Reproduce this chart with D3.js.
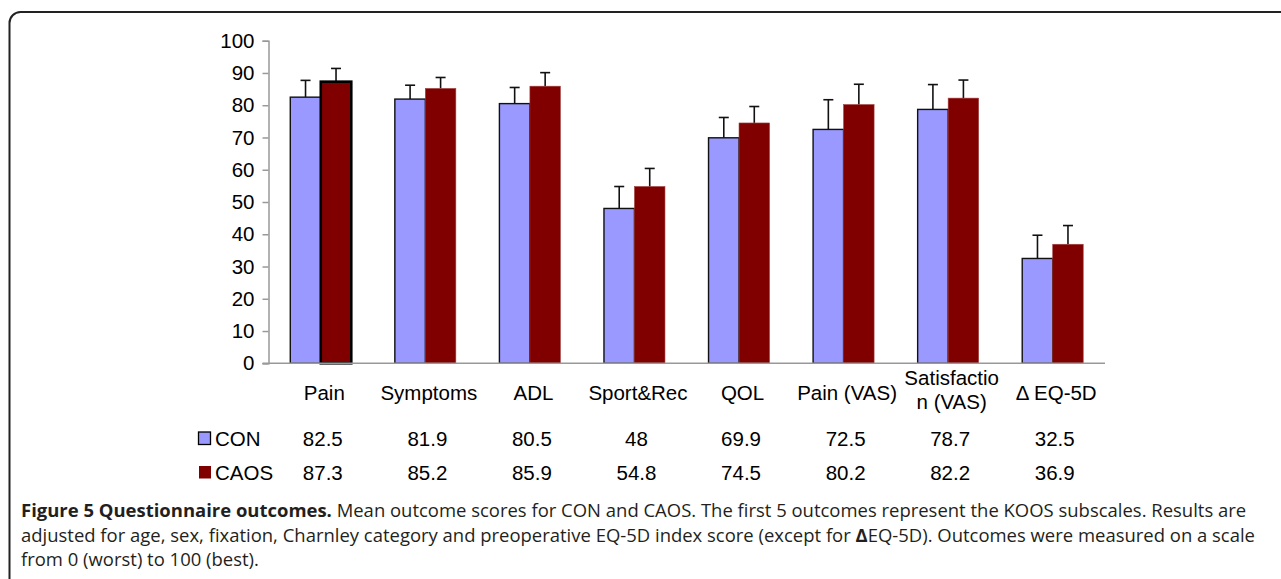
<!DOCTYPE html>
<html lang="en">
<head>
    <meta charset="UTF-8">
    <title>Figure 5 Questionnaire outcomes</title>
    <style>
        body {
            margin: 0;
            background: #fff;
            font-family: 'Liberation Sans', Arial, sans-serif;
        }
        svg {
            display: block;
        }
        .tick text {
            font-family: 'Liberation Sans', Arial, sans-serif;
        }
    </style>
</head>
<body>
    <svg width="1281" height="579"></svg>
    <script src="https://d3js.org/d3.v7.min.js"></script>
    <script>
        // Chart values.
        const categories = ["Pain", "Symptoms", "ADL", "Sport&Rec", "QOL", "Pain (VAS)", "Satisfaction (VAS)", "\u0394 EQ-5D"];
        const categoryLines = [["Pain"], ["Symptoms"], ["ADL"], ["Sport&Rec"], ["QOL"], ["Pain (VAS)"], ["Satisfactio", "n (VAS)"], ["\u0394 EQ-5D"]];
        const seriesNames = ["CON", "CAOS"];
        const conValues = [82.5, 81.9, 80.5, 48, 69.9, 72.5, 78.7, 32.5];
        const caosValues = [87.3, 85.2, 85.9, 54.8, 74.5, 80.2, 82.2, 36.9];
        const conErrors = [5.2, 4.3, 5.0, 6.8, 6.3, 9.2, 7.7, 7.2];
        const caosErrors = [4.1, 3.4, 4.2, 5.6, 5.1, 6.3, 5.6, 5.8];
        const yTicks = [0, 10, 20, 30, 40, 50, 60, 70, 80, 90, 100];
        const captionBold = "Figure 5 Questionnaire outcomes.";
        const captionLine1 = " Mean outcome scores for CON and CAOS. The first 5 outcomes represent the KOOS subscales. Results are";
        const captionLine2a = "adjusted for age, sex, fixation, Charnley category and preoperative EQ-5D index score (except for ";
        const captionLine2b = "EQ-5D). Outcomes were measured on a scale";
        const captionLine3 = "from 0 (worst) to 100 (best).";

        const colors = { CON: "#9999FF", CAOS: "#800000" };

        const svg = d3.select("svg");

        // Figure frame (rounded, running off the right and bottom edges).
        svg.append("rect")
            .attr("x", 9.5).attr("y", 12)
            .attr("width", 1320).attr("height", 620)
            .attr("rx", 11)
            .attr("fill", "none")
            .attr("stroke", "#222")
            .attr("stroke-width", 2);

        const plotLeft = 268.5, plotRight = 1105, plotTop = 40.7, plotBottom = 363.3;

        const x0 = d3.scaleBand().domain(categories).range([plotLeft, plotRight]);
        const bw = x0.bandwidth();
        const x1 = d3.scaleBand().domain(seriesNames).range([bw / 2 - 30.5, bw / 2 + 30.5]);
        const y = d3.scaleLinear().domain([0, 100]).range([plotBottom, plotTop]);

        // Y axis
        const yAxis = svg.append("g")
            .attr("transform", `translate(${plotLeft},0)`)
            .call(d3.axisLeft(y).tickValues(yTicks).tickSize(6).tickPadding(8));
        yAxis.select(".domain").attr("stroke", "#999").attr("stroke-width", 1.5);
        yAxis.selectAll(".tick line").attr("stroke", "#999").attr("stroke-width", 1.5);
        yAxis.selectAll(".tick text")
            .attr("font-size", 20.5)
            .attr("fill", "#000");

        // Bars
        const rows = categories.map((c, i) => ({
            cat: c,
            vals: [
                { s: "CON", v: conValues[i], e: conErrors[i], i },
                { s: "CAOS", v: caosValues[i], e: caosErrors[i], i }
            ]
        }));

        const groups = svg.append("g").selectAll("g")
            .data(rows)
            .join("g")
            .attr("transform", d => `translate(${x0(d.cat)},0)`);

        // Error bars first so that the bars sit on top of their stems.
        groups.selectAll("g.err")
            .data(d => d.vals)
            .join("g")
            .attr("class", "err")
            .each(function(d) {
                const cx = x1(d.s) + x1.bandwidth() / 2;
                const g = d3.select(this);
                g.append("line")
                    .attr("x1", cx).attr("x2", cx)
                    .attr("y1", y(d.v)).attr("y2", y(d.v + d.e))
                    .attr("stroke", "#111").attr("stroke-width", 1.6);
                g.append("line")
                    .attr("x1", cx - 5).attr("x2", cx + 5)
                    .attr("y1", y(d.v + d.e)).attr("y2", y(d.v + d.e))
                    .attr("stroke", "#111").attr("stroke-width", 1.6);
            });

        groups.selectAll("rect")
            .data(d => d.vals)
            .join("rect")
            .attr("x", d => x1(d.s))
            .attr("y", d => y(d.v))
            .attr("width", x1.bandwidth())
            .attr("height", d => y(0) - y(d.v))
            .attr("fill", d => colors[d.s])
            // The first CAOS bar is drawn with a heavy outline in the original.
            .attr("stroke", d => d.s === "CON" ? "#111" : (d.i === 0 ? "#000" : "#a04040"))
            .attr("stroke-width", d => d.s === "CON" ? 1.4 : (d.i === 0 ? 2.6 : 0.6));

        // X axis line
        svg.append("line")
            .attr("x1", 262.5).attr("x2", plotRight)
            .attr("y1", plotBottom).attr("y2", plotBottom)
            .attr("stroke", "#999").attr("stroke-width", 1.5);

        // Category labels
        const labelX = c => x0(c) + bw / 2 + 3.5;
        svg.append("g").selectAll("text")
            .data(categories)
            .join("text")
            .attr("x", labelX)
            .attr("y", (d, i) => categoryLines[i].length > 1 ? 385 : 400)
            .attr("text-anchor", "middle")
            .attr("font-size", 20.5)
            .selectAll("tspan")
            .data((d, i) => categoryLines[i].map(t => ({ t, c: d })))
            .join("tspan")
            .attr("x", d => labelX(d.c))
            .attr("dy", (d, j) => j === 0 ? 0 : 24)
            .text(d => d.t);

        // Data table rows with legend keys
        const tableRows = [
            { name: "CON", values: conValues, base: 446 },
            { name: "CAOS", values: caosValues, base: 480 }
        ];

        tableRows.forEach(r => {
            svg.append("rect")
                .attr("x", r.name === "CON" ? 198.5 : 199)
                .attr("y", r.base - 14)
                .attr("width", 12).attr("height", 12.5)
                .attr("fill", colors[r.name])
                .attr("stroke", r.name === "CON" ? "#000" : "none")
                .attr("stroke-width", 1.3);
            svg.append("text")
                .attr("x", 215)
                .attr("y", r.base)
                .attr("font-size", 20.5)
                .text(r.name);
            svg.append("g").selectAll("text")
                .data(r.values)
                .join("text")
                .attr("x", (d, i) => labelX(categories[i]) - 1.5)
                .attr("y", r.base)
                .attr("text-anchor", "middle")
                .attr("font-size", 20.5)
                .text(d => String(d));
        });

        // Caption: the original face is narrower than Open Sans, so every line
        // gets the same horizontal squeeze, chosen so line 2 spans the frame.
        const cap = svg.append("g")
            .attr("font-family", "'Open Sans', 'Noto Sans', sans-serif")
            .attr("font-size", 17.5)
            .attr("fill", "#231f20");

        const l1 = cap.append("text").attr("x", 21).attr("y", 517);
        l1.append("tspan").attr("font-weight", 700).text(captionBold);
        l1.append("tspan").text(captionLine1);

        const l2 = cap.append("text").attr("x", 21).attr("y", 542);
        l2.append("tspan").text(captionLine2a);
        l2.append("tspan").attr("font-weight", 700).text("\u0394");
        l2.append("tspan").text(captionLine2b);

        const l3 = cap.append("text").attr("x", 21).attr("y", 566).text(captionLine3);

        const squeeze = 1234 / l2.node().getComputedTextLength();
        [l1, l2, l3].forEach(t => {
            t.attr("textLength", t.node().getComputedTextLength() * squeeze)
                .attr("lengthAdjust", "spacingAndGlyphs");
        });
    </script>
</body>
</html>
